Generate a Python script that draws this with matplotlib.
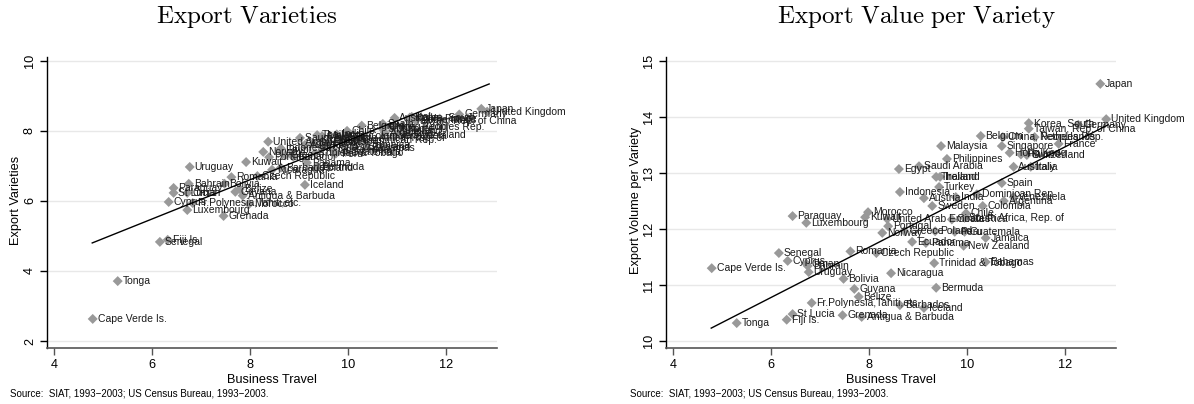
import matplotlib
matplotlib.use("Agg")
import matplotlib.pyplot as plt

plt.rcParams['font.family'] = ['Liberation Sans', 'DejaVu Sans']
plt.rcParams['mathtext.fontset'] = 'cm'

# ---------------- data ----------------
countries = [
    "Japan", "United Kingdom", "Germany", "Korea, South", "Taiwan, Rep. of China",
    "France", "Belgium", "China, Peoples Rep.", "Netherlands", "Malaysia",
    "Singapore", "Hong Kong", "Switzerland", "Finland", "Philippines",
    "Egypt", "Saudi Arabia", "Australia", "Italy", "Thailand",
    "Ireland", "Spain", "Turkey", "Indonesia", "Austria",
    "India", "Dominican Rep.", "Argentina", "Venezuela", "Sweden",
    "Colombia", "Chile", "South Africa, Rep. of", "Costa Rica", "United Arab Emirates",
    "Kuwait", "Morocco", "Portugal", "Norway", "Greece",
    "Poland", "Peru", "Guatemala", "Jamaica", "New Zealand",
    "Ecuador", "Panama", "Czech Republic", "Romania", "Trinidad & Tobago",
    "Bahamas", "Nicaragua", "Bermuda", "Barbados", "Iceland",
    "Fr.Polynesia,Tahiti,etc.", "Belize", "Guyana", "Bolivia", "Uruguay",
    "Bahrain", "Cyprus", "Oman", "Senegal", "Cape Verde Is.",
    "Paraguay", "Luxembourg", "Tonga", "Fiji Is.", "St Lucia",
    "Grenada", "Antigua & Barbuda",
]
business_travel = [
    12.72, 12.84, 12.27, 11.26, 11.26,
    11.87, 10.28, 10.73, 11.38, 9.47,
    10.71, 10.87, 11.22, 11.10, 9.59,
    8.61, 9.02, 10.95, 11.30, 9.37,
    9.45, 10.71, 9.43, 8.63, 9.12,
    9.77, 10.20, 10.75, 10.95, 9.29,
    10.32, 9.98, 9.95, 9.69, 8.37,
    7.92, 7.98, 8.39, 8.27, 8.72,
    9.35, 9.75, 9.95, 10.38, 9.93,
    8.88, 9.16, 8.15, 7.62, 9.33,
    10.38, 8.45, 9.37, 8.63, 9.12,
    6.83, 7.79, 7.70, 7.48, 6.77,
    6.75, 6.34, 6.72, 6.16, 4.79,
    6.44, 6.72, 5.30, 6.32, 6.44,
    7.46, 7.85,
]
export_varieties = [
    8.63, 8.55, 8.47, 8.38, 8.28,
    8.35, 8.15, 8.10, 8.30, 7.85,
    8.05, 8.12, 7.89, 8.00, 7.70,
    7.45, 7.80, 8.37, 8.40, 7.88,
    7.55, 8.20, 7.75, 7.50, 7.60,
    7.90, 7.75, 7.95, 7.85, 7.65,
    7.85, 8.00, 7.80, 7.45, 7.69,
    7.11, 5.91, 7.25, 7.40, 7.30,
    6.95, 7.35, 7.40, 7.60, 7.55,
    7.26, 7.09, 6.71, 6.68, 7.37,
    7.51, 6.89, 6.97, 6.95, 6.46,
    5.94, 6.34, 6.26, 6.49, 6.97,
    6.49, 5.97, 6.23, 4.83, 2.63,
    6.37, 5.74, 3.71, 4.89, 6.23,
    5.57, 6.15,
]
value_per_variety = [
    14.59, 13.96, 13.86, 13.89, 13.79,
    13.52, 13.66, 13.64, 13.64, 13.48,
    13.48, 13.36, 13.32, 13.33, 13.25,
    13.07, 13.12, 13.11, 13.11, 12.93,
    12.93, 12.82, 12.75, 12.66, 12.55,
    12.57, 12.62, 12.50, 12.57, 12.41,
    12.41, 12.28, 12.20, 12.17, 12.18,
    12.21, 12.30, 12.05, 11.93, 11.96,
    11.96, 11.95, 11.95, 11.84, 11.70,
    11.77, 11.75, 11.57, 11.60, 11.39,
    11.41, 11.21, 10.95, 10.64, 10.59,
    10.68, 10.79, 10.93, 11.11, 11.23,
    11.34, 11.43, 11.38, 11.57, 11.30,
    12.23, 12.11, 10.32, 10.38, 10.48,
    10.46, 10.43,
]
# fitted-line end points
fit_x = [4.78, 12.88]
fit_varieties = [4.80, 9.34]
fit_value = [10.23, 13.86]

left_yticks = [2, 4, 6, 8, 10]
right_yticks = [10, 11, 12, 13, 14, 15]
xticks = [4, 6, 8, 10, 12]

source_note = "Source:  SIAT, 1993\u22122003; US Census Bureau, 1993\u22122003."

# ---------------- figure ----------------
W, H = 1194, 404
fig = plt.figure(figsize=(W / 100, H / 100), dpi=100)

def make_axes(left_px, ylim, yticks, yvals, fity, ylabel, title, title_cx, ylabel_x, src_x):
    ax = fig.add_axes([left_px / W, 1 - 348 / H, 450 / W, 291 / H])
    ax.set_xlim(3.857, 13.04)
    ax.set_ylim(*ylim)
    ax.set_xticks(xticks)
    ax.set_yticks(yticks)
    ax.set_yticklabels([str(t) for t in yticks], rotation=90, va='center')
    ax.tick_params(axis='both', labelsize=9.2, length=5, width=1, direction='out', pad=3,
                   colors='black')
    ax.tick_params(axis='x', color='#555555')
    for s in ('top', 'right'):
        ax.spines[s].set_visible(False)
    ax.spines['left'].set_color('black')
    ax.spines['left'].set_linewidth(1)
    ax.spines['bottom'].set_color('#555555')
    ax.spines['bottom'].set_linewidth(1.2)
    ax.yaxis.grid(True, color='#e8e8e8', linewidth=1)
    ax.set_axisbelow(True)

    ax.scatter(business_travel, yvals, marker='D', s=26, color='#999999',
               edgecolors='none', zorder=3)
    for name, xv, yv in zip(countries, business_travel, yvals):
        ax.annotate(name, (xv, yv), xytext=(3.5, 0), textcoords='offset points',
                    ha='left', va='center', fontsize=7.5, color='#1a1a1a',
                    zorder=4, annotation_clip=False)
    ax.plot(fit_x, fity, color='black', linewidth=1, zorder=5)

    ax.set_xlabel("Business Travel", fontsize=9.2, labelpad=2)
    fig.text(ylabel_x / W, 1 - 200 / H, ylabel, rotation=90, ha='center', va='center',
             fontsize=9.2)
    fig.text(title_cx / W, 1 - 17 / H, r'$\mathrm{' + title.replace(' ', r'\ ') + '}$',
             ha='center', va='center', fontsize=18)
    fig.text(src_x / W, 1 - 393 / H, source_note, ha='left', va='center', fontsize=7)
    return ax

make_axes(47, (1.8, 10.11), left_yticks, export_varieties, fit_varieties,
          "Export Varieties", "Export Varieties", 247, 16, 10)
make_axes(666, (9.875, 15.07), right_yticks, value_per_variety, fit_value,
          "Export Volume per Variety", "Export Value per Variety", 917, 636, 630)

fig.savefig("out.png", dpi=100)
